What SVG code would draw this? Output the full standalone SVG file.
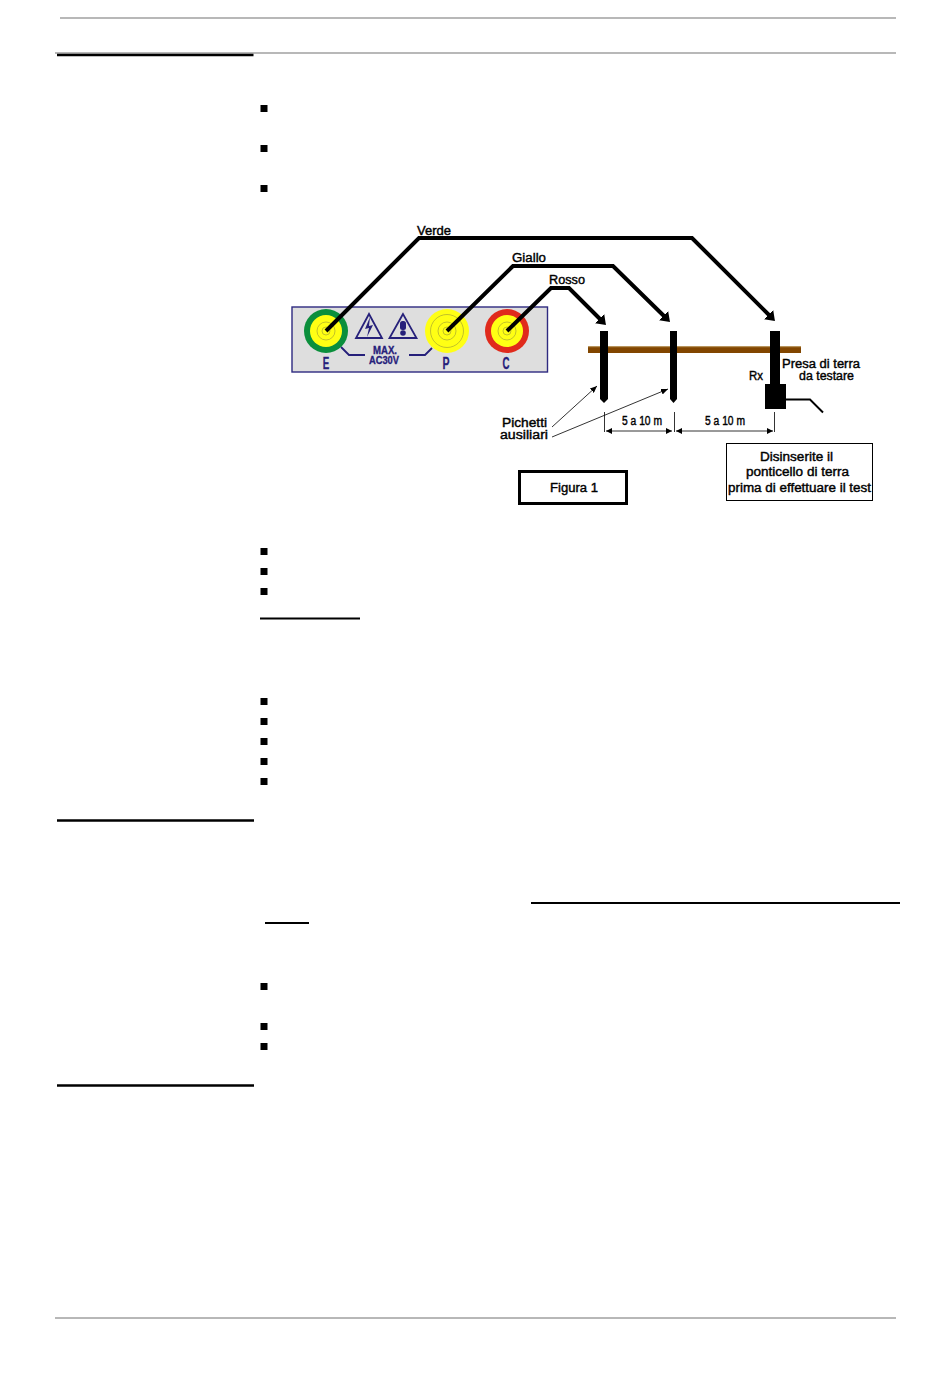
<svg xmlns="http://www.w3.org/2000/svg" width="950" height="1379" viewBox="0 0 950 1379">
<style>
text{font-family:"Liberation Sans",Arial,sans-serif;fill:#000;font-size:12.500px}
.lbl{stroke:#000;stroke-width:.4px}
.pan{fill:#26207a;stroke:#26207a;stroke-width:.3px;font-weight:bold;text-anchor:middle}
.rule{stroke:#a0a0a0;fill:none}
.rule2{stroke:#707070;fill:none}
.sec{stroke:#000;stroke-width:2.500;fill:none}
.ul{stroke:#000;stroke-width:2;fill:none}
.wire{stroke:#000;stroke-width:4;fill:none;stroke-linejoin:miter}
.thin{stroke:#000;stroke-width:.8;fill:none}
.ring{fill:none;stroke:#a8a830;stroke-width:.7}
.bul{fill:#000}
.stake{fill:#000}
.pl{fill:none;stroke:#26207a;stroke-width:1.800}
</style>
<defs>
<marker id="wh" markerUnits="userSpaceOnUse" markerWidth="14" markerHeight="14" refX="2" refY="6.500" orient="auto"><path d="M0 0L9 6.500L0 13Z" fill="#000"/></marker>
<marker id="dim" markerUnits="userSpaceOnUse" markerWidth="8" markerHeight="6" refX="6" refY="3" orient="auto-start-reverse"><path d="M0 0L6 3L0 6Z" fill="#000"/></marker>
<marker id="pt" markerUnits="userSpaceOnUse" markerWidth="8" markerHeight="6" refX="7" refY="3" orient="auto"><path d="M0 0L7 3L0 6Z" fill="#000"/></marker>
</defs>
<g id="page-rules">
<line class="rule" x1="60" y1="18" x2="896" y2="18" stroke-width="1.500"/>
<line class="rule" x1="55" y1="53" x2="896" y2="53" stroke-width="1.500"/>
<line class="sec" x1="57" y1="55" x2="253.500" y2="55"/>
<line class="sec" x1="57" y1="820.500" x2="254" y2="820.500"/>
<line class="sec" x1="57" y1="1085.500" x2="254" y2="1085.500"/>
<line class="rule2" x1="55" y1="1318" x2="896" y2="1318" stroke-width="1"/>
<line class="ul" x1="260" y1="618.500" x2="360" y2="618.500"/>
<line class="ul" x1="531" y1="903" x2="900" y2="903"/>
<line class="ul" x1="265" y1="923" x2="309" y2="923"/>
</g>
<g id="bullets">
<rect class="bul" x="260.500" y="105" width="7" height="7"/><rect class="bul" x="260.500" y="145" width="7" height="7"/><rect class="bul" x="260.500" y="185" width="7" height="7"/>
<rect class="bul" x="260.500" y="548" width="7" height="7"/><rect class="bul" x="260.500" y="568" width="7" height="7"/><rect class="bul" x="260.500" y="588" width="7" height="7"/>
<rect class="bul" x="260.500" y="698" width="7" height="7"/><rect class="bul" x="260.500" y="718" width="7" height="7"/><rect class="bul" x="260.500" y="738" width="7" height="7"/><rect class="bul" x="260.500" y="758" width="7" height="7"/><rect class="bul" x="260.500" y="778" width="7" height="7"/>
<rect class="bul" x="260.500" y="983" width="7" height="7"/><rect class="bul" x="260.500" y="1023" width="7" height="7"/><rect class="bul" x="260.500" y="1043" width="7" height="7"/>
</g>
<g id="panel">
<rect x="292" y="307" width="255.500" height="65" fill="#dedede" stroke="#2e2a80" stroke-width="1.400"/>
<path class="pl" d="M341 347L349 355H365M409 355H425L432 348"/>
<path class="pl" d="M369 314L356 338H382Z"/><path d="M370 317L365 329L369 328L367 337L373 325L369 326Z" fill="#26207a"/>
<path class="pl" d="M403 314L389.500 338H416.500Z"/><rect x="400" y="321" width="6" height="9" rx="2.500" fill="#26207a"/><circle cx="403" cy="333" r="2.800" fill="#26207a"/>
<text class="pan" x="385" y="354" textLength="24" lengthAdjust="spacingAndGlyphs" style="font-size:10.500px">MAX.</text>
<text class="pan" x="384" y="363.500" textLength="30" lengthAdjust="spacingAndGlyphs" style="font-size:10.500px">AC30V</text>
</g>
<g id="socket-e">
<circle cx="326" cy="331" r="22" fill="#0b8f3c"/><circle cx="326" cy="331" r="16" fill="#ffff14"/><circle class="ring" cx="326" cy="331" r="9"/><circle class="ring" cx="326" cy="331" r="4"/>
<text class="pan" x="326" y="369" textLength="6.500" lengthAdjust="spacingAndGlyphs" style="font-size:16px">E</text>
</g>
<g id="socket-p">
<circle cx="447" cy="331" r="22" fill="#ffff14"/><circle class="ring" cx="447" cy="331" r="16.500"/><circle class="ring" cx="447" cy="331" r="9"/><circle class="ring" cx="447" cy="331" r="4"/>
<text class="pan" x="446" y="369" textLength="7" lengthAdjust="spacingAndGlyphs" style="font-size:16px">P</text>
</g>
<g id="socket-c">
<circle cx="507" cy="331" r="22" fill="#e02a1c"/><circle cx="507" cy="331" r="16" fill="#ffff14"/><circle class="ring" cx="507" cy="331" r="9"/><circle class="ring" cx="507" cy="331" r="4"/>
<text class="pan" x="506" y="369" textLength="7" lengthAdjust="spacingAndGlyphs" style="font-size:16px">C</text>
</g>
<g id="earth-bar"><rect x="588" y="346" width="213" height="7" fill="#824600"/><rect x="588" y="346" width="213" height="1.200" fill="#b8945c"/></g>
<g id="stake-1"><path class="stake" d="M600 331H608V399L604 403L600 399Z"/></g>
<g id="stake-2"><path class="stake" d="M670 331H677V399L673.500 403L670 399Z"/></g>
<g id="stake-rx"><rect class="stake" x="770" y="331" width="10" height="54"/><rect class="stake" x="765" y="384" width="21" height="25"/>
<path d="M786 399.500H810L823 412.500" fill="none" stroke="#000" stroke-width="2"/></g>
<g id="connectors">
<path class="wire" d="M326 331L419 238H692L770 316" marker-end="url(#wh)"/>
<path class="wire" d="M447 331L513 266H613L665 317" marker-end="url(#wh)"/>
<path class="wire" d="M507 331L551 288H569L601 320" marker-end="url(#wh)"/>
<path class="thin" d="M552 427L597 386" marker-end="url(#pt)"/>
<path class="thin" d="M552 437L668 389" marker-end="url(#pt)"/>
<path class="thin" d="M604.500 412V432M674.500 412V432M774.500 412V432"/>
<path class="thin" d="M606 431H672" marker-start="url(#dim)" marker-end="url(#dim)"/>
<path class="thin" d="M676 431H773" marker-start="url(#dim)" marker-end="url(#dim)"/>
</g>
<g id="labels">
<text class="lbl" x="417" y="235" textLength="34" lengthAdjust="spacingAndGlyphs">Verde</text>
<text class="lbl" x="512" y="262" textLength="34" lengthAdjust="spacingAndGlyphs">Giallo</text>
<text class="lbl" x="549" y="284" textLength="36" lengthAdjust="spacingAndGlyphs">Rosso</text>
<text class="lbl" x="749" y="380" textLength="14" lengthAdjust="spacingAndGlyphs">Rx</text>
<text class="lbl" x="782" y="368" textLength="78" lengthAdjust="spacingAndGlyphs">Presa di terra</text>
<text class="lbl" x="799" y="380" textLength="55" lengthAdjust="spacingAndGlyphs">da testare</text>
<text class="lbl" x="502" y="427" textLength="45" lengthAdjust="spacingAndGlyphs">Pichetti</text>
<text class="lbl" x="500" y="439" textLength="48" lengthAdjust="spacingAndGlyphs">ausiliari</text>
<text class="lbl" x="622" y="425" textLength="40" lengthAdjust="spacingAndGlyphs">5 a 10 m</text>
<text class="lbl" x="705" y="425" textLength="40" lengthAdjust="spacingAndGlyphs">5 a 10 m</text>
</g>
<g id="figure-label">
<rect x="519.500" y="471.500" width="107" height="32" fill="#fff" stroke="#000" stroke-width="3"/>
<text class="lbl" x="550" y="492" textLength="48" lengthAdjust="spacingAndGlyphs">Figura 1</text>
</g>
<g id="note">
<rect x="726.500" y="443.500" width="146" height="57" fill="#fff" stroke="#000" stroke-width="1"/>
<text class="lbl" x="760" y="461" textLength="73" lengthAdjust="spacingAndGlyphs">Disinserite il</text>
<text class="lbl" x="746" y="476" textLength="103" lengthAdjust="spacingAndGlyphs">ponticello di terra</text>
<text class="lbl" x="728" y="492" textLength="143" lengthAdjust="spacingAndGlyphs">prima di effettuare il test</text>
</g>
</svg>
